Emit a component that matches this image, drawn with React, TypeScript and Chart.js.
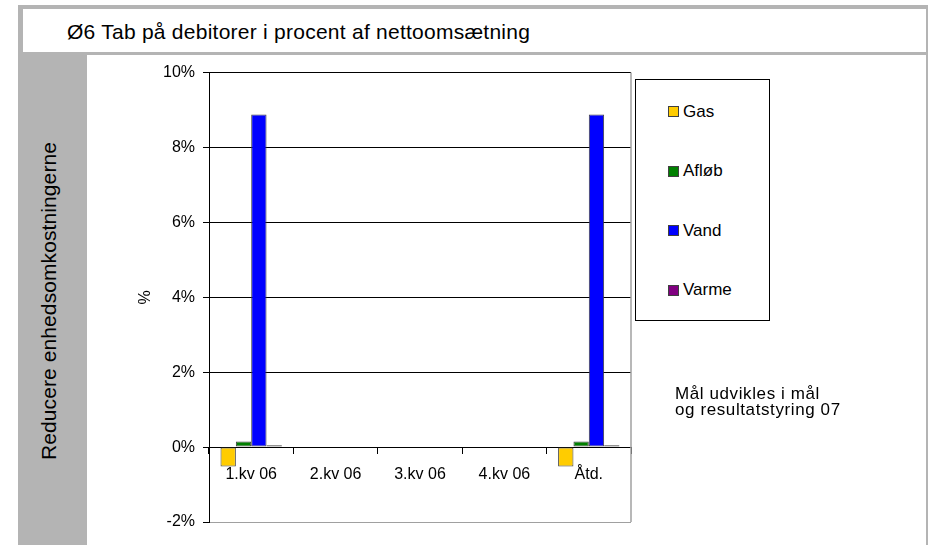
import React, { useEffect, useRef } from "react";
import { Chart, registerables } from "chart.js";

Chart.register(...registerables);

const titleText = "Ø6 Tab på debitorer i procent af nettoomsætning";
const sideText = "Reducere enhedsomkostningerne";
const noteLines = ["Mål udvikles i mål", "og resultatstyring 07"];
const yAxisTitle = "%";

const categories = ["1.kv 06", "2.kv 06", "3.kv 06", "4.kv 06", "Åtd."];
const seriesNames = ["Gas", "Afløb", "Vand", "Varme"];
const seriesColors = ["#FFCC00", "#008000", "#0000FF", "#800080"];
const gasValues = [-0.52, null, null, null, -0.52];
const afloebValues = [0.15, null, null, null, 0.15];
const vandValues = [8.88, null, null, null, 8.88];
const varmeValues = [0.05, null, null, null, 0.05];
const yTicks = [-2, 0, 2, 4, 6, 8, 10];

const FONT = "'Liberation Sans', Arial, Helvetica, sans-serif";
const GRAY = "#b4b4b4";

const frameBorder = {
  id: "frameBorder",
  afterDraw(chart: any) {
    const { ctx, chartArea } = chart;
    ctx.save();
    ctx.strokeStyle = "#a0a0a0";
    ctx.lineWidth = 1.5;
    const x = Math.round(chartArea.right);
    ctx.beginPath();
    ctx.moveTo(x, chartArea.top);
    ctx.lineTo(x, chartArea.bottom);
    ctx.stroke();
    ctx.restore();
  },
};

export default function App() {
  const canvasRef = useRef<HTMLCanvasElement | null>(null);

  useEffect(() => {
    document.body.style.margin = "0";
    const canvas = canvasRef.current;
    if (!canvas) return;
    const seriesValues = [gasValues, afloebValues, vandValues, varmeValues];
    const chart = new Chart(canvas, {
      type: "bar",
      data: {
        labels: categories,
        datasets: seriesNames.map((name, i) => ({
          label: name,
          data: seriesValues[i] as any,
          backgroundColor: seriesColors[i],
          borderColor: "#404040",
          borderWidth: 1,
          borderSkipped: false,
          categoryPercentage: 4 / 5.5,
          barPercentage: 1,
        })),
      },
      options: {
        responsive: false,
        animation: false,
        devicePixelRatio: 1,
        layout: { padding: { left: 0, top: 14, right: 295, bottom: 23 } },
        plugins: {
          legend: { display: false },
          tooltip: { enabled: false },
          title: { display: false },
        },
        scales: {
          x: {
            type: "category",
            position: { y: 0 } as any,
            offset: true,
            grid: {
              offset: true,
              drawOnChartArea: false,
              drawTicks: true,
              tickLength: 6,
              color: "#000",
            },
            border: { display: true, color: "#000", width: 1 },
            ticks: {
              color: "#000",
              font: { family: FONT, size: 16 },
              padding: 12,
              maxRotation: 0,
              autoSkip: false,
            },
          },
          y: {
            type: "linear",
            min: -2,
            max: 10,
            afterBuildTicks: (scale: any) => {
              scale.ticks = yTicks.map((v) => ({ value: v }));
            },
            afterFit: (scale: any) => {
              scale.width = 122;
            },
            grid: {
              color: (ctx: any) =>
                ctx.tick && ctx.tick.value === -2 ? "#a0a0a0" : "#000",
              tickColor: "#000",
              tickLength: 6,
              drawTicks: true,
            },
            border: { display: true, color: "#000", width: 1 },
            ticks: {
              color: "#000",
              font: { family: FONT, size: 16 },
              padding: 8,
              callback: (v: any) => `${v}%`,
            },
            title: {
              display: true,
              text: yAxisTitle,
              color: "#000",
              font: { family: FONT, size: 16 },
              padding: { top: 49, bottom: 0 },
            },
          },
        },
      },
      plugins: [frameBorder],
    });
    return () => chart.destroy();
  }, []);

  return (
    <div
      style={{
        position: "absolute",
        left: 0,
        top: 0,
        width: 928,
        height: 545,
        background: "#fff",
        overflow: "hidden",
        fontFamily: FONT,
        color: "#000",
      }}
    >
      {/* gray frame */}
      <div style={{ position: "absolute", left: 18, top: 5, width: 910, height: 540, background: GRAY }} />
      {/* title box */}
      <div style={{ position: "absolute", left: 23, top: 9, width: 903, height: 43, background: "#fff" }} />
      <div
        style={{
          position: "absolute",
          left: 67,
          top: 21,
          fontSize: 21,
          lineHeight: "21px",
          letterSpacing: "0.25px",
          whiteSpace: "nowrap",
        }}
      >
        {titleText}
      </div>
      {/* side label */}
      <div style={{ position: "absolute", left: 47.5, top: 300.5, width: 0, height: 0 }}>
        <div
          style={{
            position: "absolute",
            left: 0,
            top: 0,
            fontSize: 21,
            lineHeight: "21px",
            letterSpacing: "0.1px",
            whiteSpace: "nowrap",
            transform: "translate(-50%, -50%) rotate(-90deg)",
          }}
        >
          {sideText}
        </div>
      </div>
      {/* chart area background */}
      <div style={{ position: "absolute", left: 87, top: 55, width: 839, height: 490, background: "#fff" }} />
      <canvas
        ref={canvasRef}
        width={839}
        height={490}
        style={{ position: "absolute", left: 87, top: 55, width: 839, height: 490 }}
      />
      {/* legend */}
      <div
        style={{
          position: "absolute",
          left: 635,
          top: 79,
          width: 133,
          height: 238,
          border: "1px solid #000",
          background: "#fff",
          display: "flex",
          flexDirection: "column",
          justifyContent: "space-around",
          paddingTop: 2,
          boxSizing: "content-box",
        }}
      >
        {seriesNames.map((name, i) => (
          <div key={name} style={{ display: "flex", alignItems: "center", marginLeft: 32 }}>
            <div
              style={{
                width: 9,
                height: 9,
                border: "1px solid #404040",
                background: seriesColors[i],
                marginRight: 4,
              }}
            />
            <span style={{ fontSize: 17, lineHeight: "20px", whiteSpace: "nowrap" }}>{name}</span>
          </div>
        ))}
      </div>
      {/* note */}
      <div
        style={{
          position: "absolute",
          left: 675,
          top: 385.5,
          fontSize: 17,
          lineHeight: "16px",
          letterSpacing: "0.6px",
          whiteSpace: "nowrap",
        }}
      >
        {noteLines.map((l) => (
          <div key={l}>{l}</div>
        ))}
      </div>
    </div>
  );
}
